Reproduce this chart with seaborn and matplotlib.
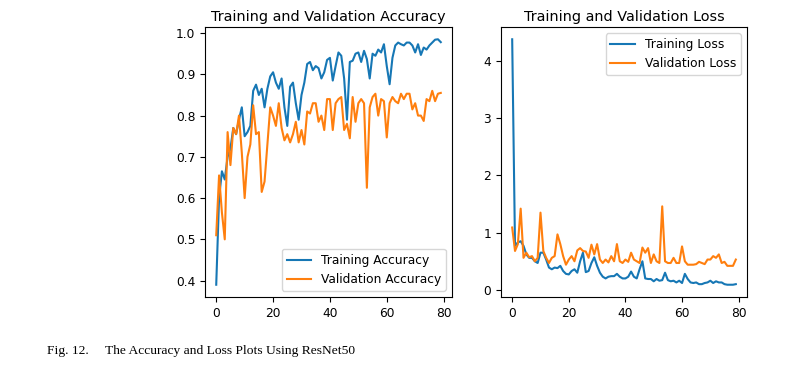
import seaborn as sns
import matplotlib.pyplot as plt
import numpy as np

# valores (80 epocas)
train_acc = [0.39, 0.60, 0.665, 0.645, 0.70, 0.72, 0.77, 0.755, 0.79, 0.82,
             0.75, 0.76, 0.775, 0.86, 0.875, 0.85, 0.865, 0.82, 0.865, 0.895,
             0.905, 0.88, 0.865, 0.89, 0.82, 0.775, 0.87, 0.88, 0.83, 0.79,
             0.85, 0.88, 0.925, 0.93, 0.91, 0.92, 0.915, 0.89, 0.905, 0.935,
             0.94, 0.885, 0.92, 0.953, 0.945, 0.89, 0.79, 0.93, 0.933, 0.95,
             0.953, 0.93, 0.957, 0.937, 0.89, 0.95, 0.945, 0.96, 0.953, 0.973,
             0.92, 0.876, 0.94, 0.97, 0.977, 0.973, 0.97, 0.977, 0.977, 0.97,
             0.953, 0.973, 0.947, 0.965, 0.96, 0.97, 0.977, 0.984, 0.985, 0.978]
val_acc = [0.51, 0.655, 0.565, 0.50, 0.76, 0.68, 0.77, 0.755, 0.80, 0.71,
           0.60, 0.70, 0.73, 0.825, 0.755, 0.76, 0.615, 0.64, 0.73, 0.82,
           0.80, 0.775, 0.83, 0.77, 0.74, 0.755, 0.735, 0.755, 0.785, 0.735,
           0.765, 0.73, 0.81, 0.805, 0.83, 0.83, 0.785, 0.80, 0.765, 0.84,
           0.84, 0.765, 0.83, 0.84, 0.845, 0.765, 0.78, 0.745, 0.845, 0.785,
           0.83, 0.84, 0.83, 0.625, 0.82, 0.845, 0.853, 0.80, 0.84, 0.835,
           0.747, 0.83, 0.845, 0.835, 0.83, 0.853, 0.84, 0.853, 0.853, 0.815,
           0.83, 0.80, 0.80, 0.787, 0.84, 0.835, 0.86, 0.835, 0.853, 0.855]
train_loss = [4.38, 0.77, 0.83, 0.85, 0.77, 0.62, 0.56, 0.56, 0.50, 0.47,
              0.65, 0.65, 0.53, 0.39, 0.36, 0.39, 0.38, 0.42, 0.33, 0.28,
              0.27, 0.33, 0.36, 0.30, 0.50, 0.65, 0.31, 0.33, 0.47, 0.57,
              0.42, 0.30, 0.23, 0.20, 0.23, 0.24, 0.24, 0.28, 0.23, 0.20,
              0.20, 0.23, 0.32, 0.23, 0.20, 0.36, 0.50, 0.20, 0.19, 0.19,
              0.15, 0.19, 0.16, 0.17, 0.30, 0.17, 0.15, 0.16, 0.13, 0.16,
              0.12, 0.28, 0.19, 0.13, 0.12, 0.13, 0.10, 0.10, 0.12, 0.13,
              0.16, 0.12, 0.15, 0.13, 0.13, 0.10, 0.09, 0.09, 0.09, 0.10]
val_loss = [1.09, 0.68, 0.80, 1.42, 0.56, 0.65, 0.57, 0.59, 0.50, 0.56,
            1.35, 0.68, 0.56, 0.47, 0.56, 0.59, 0.97, 0.80, 0.59, 0.44,
            0.53, 0.59, 0.50, 0.69, 0.73, 0.68, 0.67, 0.56, 0.79, 0.62,
            0.80, 0.53, 0.47, 0.53, 0.48, 0.59, 0.50, 0.80, 0.50, 0.47,
            0.53, 0.49, 0.65, 0.53, 0.50, 0.47, 0.74, 0.65, 0.73, 0.47,
            0.62, 0.50, 0.47, 1.46, 0.50, 0.47, 0.47, 0.56, 0.47, 0.47,
            0.76, 0.50, 0.44, 0.44, 0.44, 0.45, 0.49, 0.47, 0.45, 0.53,
            0.53, 0.59, 0.56, 0.62, 0.47, 0.49, 0.42, 0.42, 0.42, 0.53]
epochs = np.arange(len(train_acc))

blue = '#1677b5'
orange = '#ff7f0e'

fig = plt.figure(figsize=(7.92, 3.70), dpi=100)
ax1 = fig.add_axes([205 / 792, 1 - 297 / 370, 247 / 792, 270 / 370])
ax2 = fig.add_axes([501 / 792, 1 - 297 / 370, 246 / 792, 270 / 370])

sns.lineplot(x=epochs, y=train_acc, ax=ax1, color=blue, lw=1.5, label='Training Accuracy')
sns.lineplot(x=epochs, y=val_acc, ax=ax1, color=orange, lw=1.5, label='Validation Accuracy')
ax1.set_title('Training and Validation Accuracy', fontsize=10.4, pad=4)
ax1.legend(loc='lower right', fontsize=8.8)

sns.lineplot(x=epochs, y=train_loss, ax=ax2, color=blue, lw=1.5, label='Training Loss')
sns.lineplot(x=epochs, y=val_loss, ax=ax2, color=orange, lw=1.5, label='Validation Loss')
ax2.set_title('Training and Validation Loss', fontsize=10.4, pad=4)
ax2.legend(loc='upper right', fontsize=8.8)

for ax in (ax1, ax2):
    ax.tick_params(labelsize=8.8)
    ax.set_xticks([0, 20, 40, 60, 80])

ax2.set_yticks([0, 1, 2, 3, 4])

# legenda da figura
fig.text(47 / 792, 1 - 351 / 370, 'Fig. 12.', family='Liberation Serif', fontsize=9.7, va='center')
fig.text(105 / 792, 1 - 351 / 370, 'The Accuracy and Loss Plots Using ResNet50',
         family='Liberation Serif', fontsize=9.7, va='center')

plt.savefig('out.png', dpi=100)
